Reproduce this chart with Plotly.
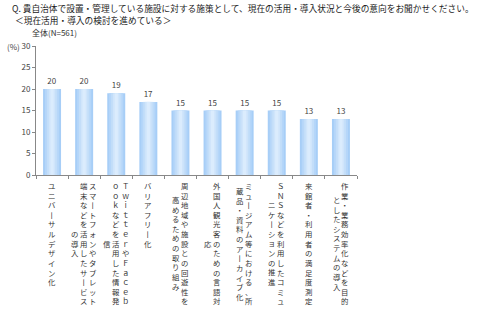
import plotly.graph_objects as go

# Survey results: share of respondents (%) currently using / considering each measure
categories = [
    "ユニバーサルデザイン化",
    "スマートフォンやタブレット端末などを活用したサービスの導入",
    "ＴｗｉｔｔｅｒやＦａｃｅｂｏｏｋなどを活用した情報発信",
    "バリアフリー化",
    "周辺地域や施設との回遊性を高めるための取り組み",
    "外国人観光客のための言語対応",
    "ミュージアム等における、所蔵品・資料のアーカイブ化",
    "ＳＮＳなどを利用したコミュニケーションの推進",
    "来館者・利用者の満足度測定",
    "作業・業務効率化などを目的としたシステムの導入",
]
values = [20, 20, 19, 17, 15, 15, 15, 15, 13, 13]
y_ticks = [0, 5, 10, 15, 20, 25, 30]

title_q = "Q. 貴自治体で設置・管理している施設に対する施策として、現在の活用・導入状況と今後の意向をお聞かせください。"
title_sub = "＜現在活用・導入の検討を進めている＞"
group_label = "全体(N=561)"

FONT = "Noto Sans CJK JP, Noto Sans CJK SC, sans-serif"
W, H = 480, 332
M_L, M_R, M_T, M_B = 36, 123, 46, 157
PW, PH = W - M_L - M_R, H - M_T - M_B


def px_x(px):
    """Figure pixel x -> paper x."""
    return (px - M_L) / PW


def px_y(py):
    """Figure pixel y (from top) -> paper y."""
    return (H - M_B - py) / PH


xs = list(range(len(categories)))
fig = go.Figure()

# Bars with a soft horizontal gradient: layered widths, lighter towards the middle
layers = [
    (0.56, "#a7cef7"),
    (0.44, "#b5d6f9"),
    (0.32, "#c3def9"),
    (0.20, "#d0e5fb"),
    (0.10, "#dbecfd"),
]
for i, (w, c) in enumerate(layers):
    fig.add_trace(go.Bar(
        x=xs, y=values, width=w,
        marker=dict(color=c, line=dict(width=0)),
        text=[str(v) for v in values] if i == 0 else None,
        textposition="outside" if i == 0 else "none",
        textfont=dict(family=FONT, size=8, color="#444"),
        cliponaxis=False,
        hoverinfo="skip", showlegend=False,
    ))

fig.update_layout(
    template="none",
    width=W, height=H,
    margin=dict(l=M_L, r=M_R, t=M_T, b=M_B, pad=0, autoexpand=False),
    barmode="overlay",
    plot_bgcolor="white", paper_bgcolor="white",
    font=dict(family=FONT, size=8, color="#444"),
)
fig.update_xaxes(
    range=[-0.5, len(categories) - 0.5],
    tickvals=[i - 0.5 for i in range(len(categories) + 1)],
    showticklabels=False, automargin=False,
    ticks="outside", ticklen=3, tickcolor="#888",
    showline=True, linecolor="#888", linewidth=1,
    showgrid=False, zeroline=False, fixedrange=True,
)
fig.update_yaxes(
    range=[0, 30], tickvals=y_ticks, automargin=False,
    ticks="outside", ticklen=3, tickcolor="#888",
    showline=True, linecolor="#888", linewidth=1,
    showgrid=False, zeroline=False,
    tickfont=dict(family=FONT, size=8, color="#444"),
    fixedrange=True,
)

# Header text
ann = []
ann.append(dict(text=title_q, x=px_x(10), y=px_y(9), xref="paper", yref="paper",
                xanchor="left", yanchor="middle", showarrow=False,
                font=dict(family=FONT, size=8.7, color="#1a1a1a")))
ann.append(dict(text=title_sub, x=px_x(13), y=px_y(20), xref="paper", yref="paper",
                xanchor="left", yanchor="middle", showarrow=False,
                font=dict(family=FONT, size=8.7, color="#1a1a1a")))
ann.append(dict(text=group_label, x=px_x(30), y=px_y(32), xref="paper", yref="paper",
                xanchor="left", yanchor="middle", showarrow=False,
                font=dict(family=FONT, size=8, color="#333")))
ann.append(dict(text="(%)", x=px_x(5), y=px_y(46), xref="paper", yref="paper",
                xanchor="left", yanchor="middle", showarrow=False,
                font=dict(family=FONT, size=8, color="#444")))

# Vertical category labels: columns of up to 13 characters, read right to left,
# each column centred within the label block
WRAP = 13
LABEL_SIZE = 7.4
PITCH_Y = LABEL_SIZE * 1.3      # plotly's line spacing for <br>-separated lines
PITCH_X = 8.8
TOP_GAP = 4
vert_map = {"ー": "丨", "－": "丨"}
for i, label in enumerate(categories):
    cols = [label[k:k + WRAP] for k in range(0, len(label), WRAP)]
    maxlen = max(len(c) for c in cols)
    n = len(cols)
    for j, col in enumerate(cols):
        xshift = ((n - 1) / 2 - j) * PITCH_X
        off = (maxlen - len(col)) / 2
        ann.append(dict(
            text="<br>".join(vert_map.get(ch, ch) for ch in col),
            x=i, y=0, xref="x", yref="paper",
            xanchor="center", yanchor="top", showarrow=False, borderpad=0,
            xshift=xshift, yshift=-(TOP_GAP + off * PITCH_Y),
            font=dict(family=FONT, size=LABEL_SIZE, color="#333"),
        ))
fig.update_layout(annotations=ann)

fig.write_html("out.html")
